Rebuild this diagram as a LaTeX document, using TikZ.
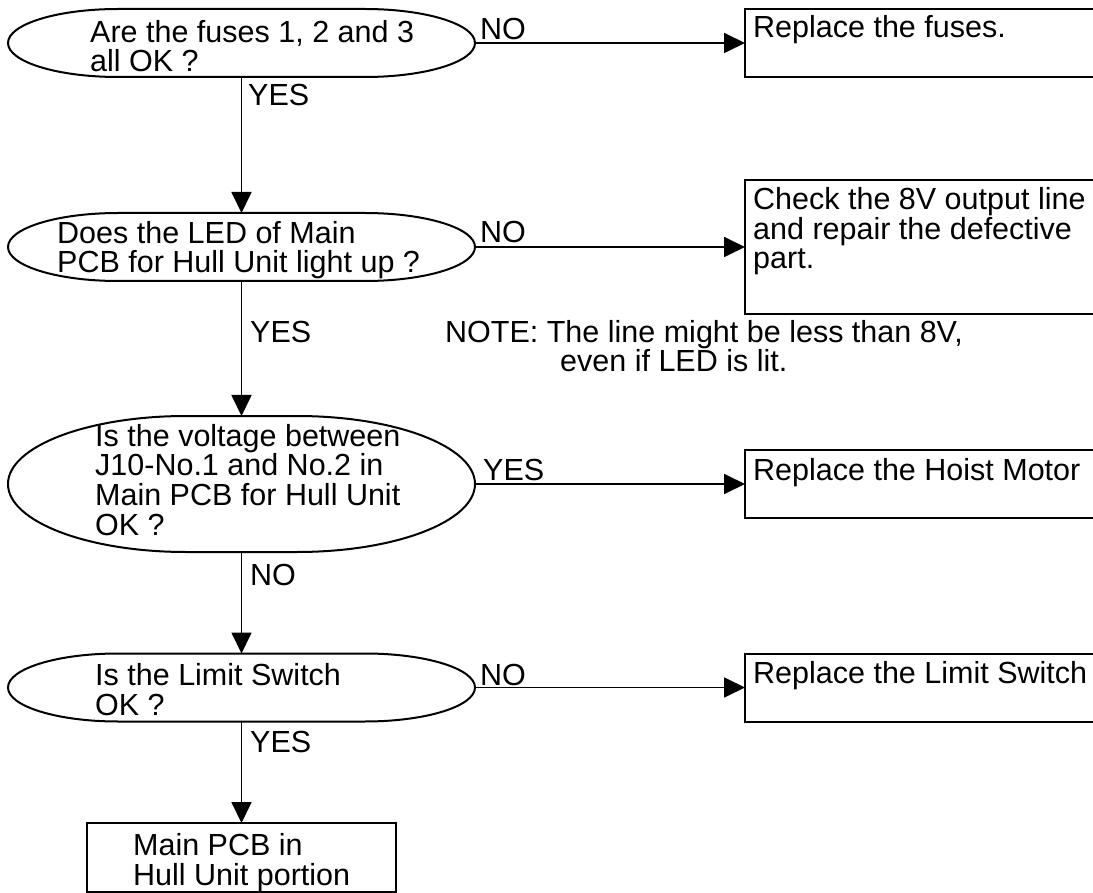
\documentclass[tikz,border=0pt]{standalone}
\usepackage{fontspec}
\setmainfont{Liberation Sans}
\usetikzlibrary{arrows.meta}

% outline of a decision: straight top and bottom, elliptic ends
% #1 node name, #2 horizontal radius of the ends, #3 half height
\newcommand\decisionoutline[3]{%
  \draw[shapeline] ([xshift=#2pt]#1.north west) -- ([xshift=-#2pt]#1.north east)
    arc[start angle=90, end angle=-90, x radius=#2pt, y radius=#3pt]
    -- ([xshift=#2pt]#1.south west)
    arc[start angle=270, end angle=90, x radius=#2pt, y radius=#3pt] -- cycle;}

\begin{document}
\begin{tikzpicture}[x=1pt,y=-1pt,
  shapeline/.style={line width=2pt},
  decision/.style={draw=none, inner sep=0pt, outer sep=0pt, minimum width=467pt, minimum height=68pt},
  actionbox/.style={draw, line width=2pt, inner sep=0pt, outer sep=0pt, minimum width=360pt, minimum height=68pt},
  txt/.style={font=\fontsize{30.5}{29.6}\selectfont, inner sep=0pt, align=left, anchor=base west},
  lbl/.style={font=\fontsize{30.5}{30}\selectfont, inner sep=0pt, anchor=base west},
  flow/.style={line width=1.8pt, -{Triangle[length=21pt,width=20pt]}}
]
\clip (0,0) rectangle (1093,893);

% decisions
\node[decision] (q1) at (241.5,43) {};
\node[decision] (q2) at (241.5,247) {};
\node[decision, minimum height=136pt] (q3) at (241.5,484) {};
\node[decision] (q4) at (241.5,687.5) {};
\decisionoutline{q1}{110}{34}
\decisionoutline{q2}{110}{34}
\decisionoutline{q3}{178}{68}
\decisionoutline{q4}{110}{34}

% actions
\node[actionbox, anchor=west] (a1) at (745,43) {};
\node[actionbox, anchor=west, minimum height=134pt] (a2) at (745,247) {};
\node[actionbox, anchor=west] (a3) at (745,484) {};
\node[actionbox, anchor=west] (a4) at (745,687.5) {};
\node[actionbox, minimum width=309pt, minimum height=69pt] (a5) at (241.5,857.5) {};

% texts (multi-line nodes sit on the baseline of their last line)
\node[txt] (q1t) at (90,72) {Are the fuses 1, 2 and 3\\all OK ?};
\node[txt] (q2t) at (57,273) {Does the LED of Main\\PCB for Hull Unit light up ?};
\node[txt] (q3t) at (95,535) {Is the voltage between\\J10-No.1 and No.2 in\\Main PCB for Hull Unit\\OK ?};
\node[txt] (q4t) at (95,715) {Is the Limit Switch\\OK ?};
\node[txt] (a1t) at (753,38) {Replace the fuses.};
\node[txt] (a2t) at (753,269) {Check the 8V output line\\and repair the defective\\part.};
\node[txt] (a3t) at (753,480) {Replace the Hoist Motor};
\node[txt] (a4t) at (753,683) {Replace the Limit Switch};
\node[txt] (a5t) at (133,885) {Main PCB in\\Hull Unit portion};
\node[txt] (note1) at (445,343) {NOTE: The line might be less than 8V,};
\node[txt] (note2) at (560,372) {even if LED is lit.};

% connectors
\draw[flow] (q1.east) -- (a1.west);
\draw[flow] (q1.south) -- (q2.north);
\draw[flow] (q2.east) -- (a2.west);
\draw[flow] (q2.south) -- (q3.north);
\draw[flow] (q3.east) -- (a3.west);
\draw[flow] (q3.south) -- (q4.north);
\draw[flow] (q4.east) -- (a4.west);
\draw[flow] (q4.south) -- (a5.north);

% branch labels
\node[lbl] (l1) at (480,40) {NO};
\node[lbl] (l2) at (248,106) {YES};
\node[lbl] (l3) at (480,243) {NO};
\node[lbl] (l4) at (250,343) {YES};
\node[lbl] (l5) at (483,480) {YES};
\node[lbl] (l6) at (250,585) {NO};
\node[lbl] (l7) at (480,685) {NO};
\node[lbl] (l8) at (250,752) {YES};
\end{tikzpicture}
\end{document}
